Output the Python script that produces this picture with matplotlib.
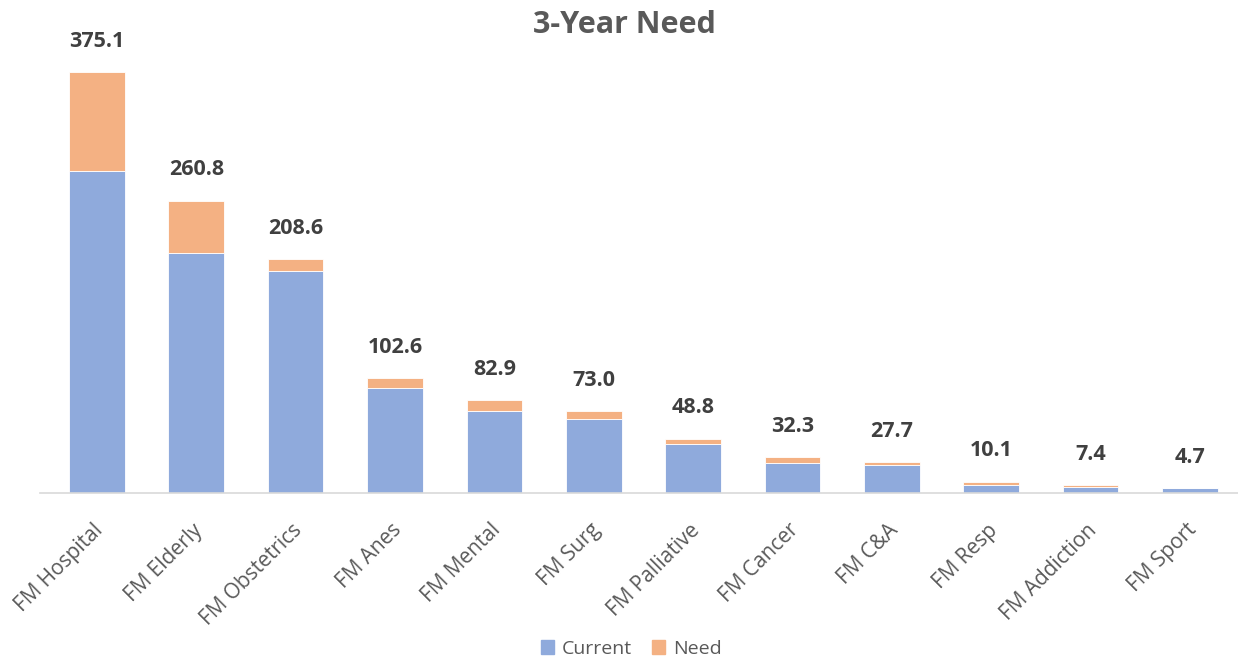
import numpy as np
import matplotlib.pyplot as plt
import matplotlib.transforms as mtransforms
from matplotlib.patches import Patch

plt.rcParams['font.family'] = ['Open Sans', 'DejaVu Sans']

categories = ["FM Hospital", "FM Elderly", "FM Obstetrics", "FM Anes", "FM Mental",
              "FM Surg", "FM Palliative", "FM Cancer", "FM C&A", "FM Resp",
              "FM Addiction", "FM Sport"]
totals = [375.1, 260.8, 208.6, 102.6, 82.9, 73.0, 48.8, 32.3, 27.7, 10.1, 7.4, 4.7]
current = [287.4, 214.4, 198.3, 93.8, 73.3, 66.2, 44.2, 27.3, 24.9, 7.7, 5.3, 4.4]
need = [t - c for t, c in zip(totals, current)]

blue = "#8FAADC"
orange = "#F4B183"

fig = plt.figure(figsize=(12.38, 6.61), dpi=100)
ax = fig.add_axes([0.0323, 0.2537, 0.9677, 0.7130])

x = np.arange(len(categories))
w = 0.56
ax.bar(x, current, w, color=blue, edgecolor="white", linewidth=0.6, label="Current")
ax.bar(x, need, w, bottom=current, color=orange, edgecolor="white", linewidth=0.6, label="Need")

for xi, t in zip(x, totals):
    ax.annotate(f"{t:.1f}", (xi, t), xytext=(0, 31), textcoords="offset pixels",
                ha="center", va="center", fontsize=15.5, fontweight="bold", color="#404040")

ax.set_xlim(-0.573, 11.483)
ax.set_ylim(0, 420)
ax.set_yticks([])
for s in ["top", "right", "left"]:
    ax.spines[s].set_visible(False)
ax.spines["bottom"].set_color("#D9D9D9")
ax.spines["bottom"].set_linewidth(1.2)

ax.set_xticks(x)
ax.set_xticklabels(categories, rotation=45, ha="right", rotation_mode="anchor",
                   fontsize=15, color="#595959")
ax.tick_params(axis="x", length=0, pad=19)
# nudge the rotated labels a little to the left
shift = mtransforms.ScaledTranslation(-4 / 100, 0, fig.dpi_scale_trans)
for lbl in ax.get_xticklabels():
    lbl.set_transform(lbl.get_transform() + shift)

fig.text(0.504, 0.962, "3-Year Need", ha="center", va="center", fontsize=22,
         fontweight="bold", color="#595959")

handles = [Patch(color=blue), Patch(color=orange)]
fig.legend(handles, ["Current", "Need"], loc="center", bbox_to_anchor=(0.51, 0.018),
           ncol=2, frameon=False, fontsize=14, handlelength=0.7, handleheight=0.7,
           handletextpad=0.4, columnspacing=1.0, labelcolor="#595959")

fig.savefig("out.png", dpi=100)
